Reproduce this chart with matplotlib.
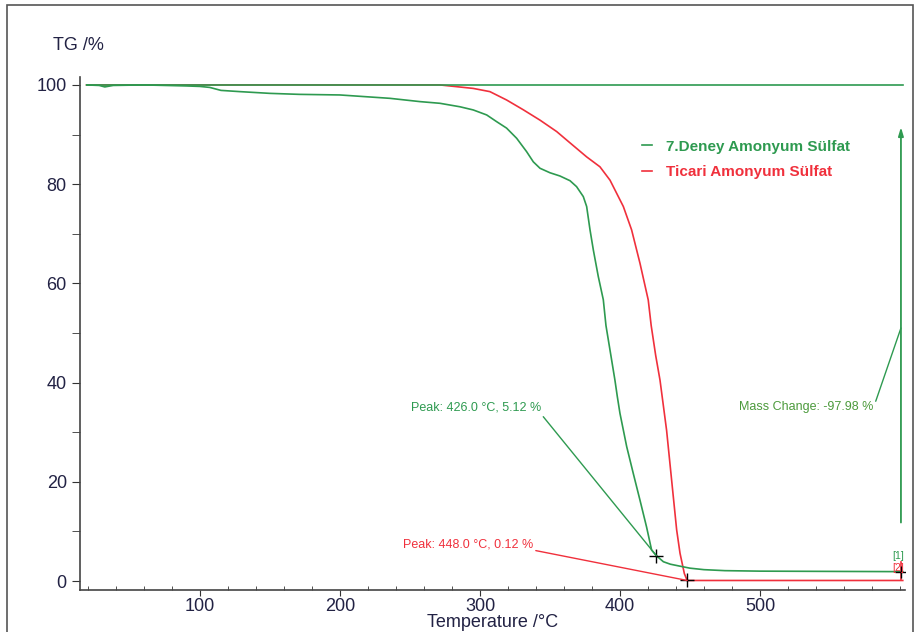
import matplotlib.pyplot as plt
import numpy as np
from matplotlib.patches import Rectangle

plt.rcParams['font.family'] = ['Liberation Sans', 'DejaVu Sans']

# 7.Deney Amonyum Sulfat (green)
t_deney = [19, 28, 32, 38, 60, 90, 100, 107, 115, 128.6, 150, 171, 200, 235.7, 257.1,
           271.4, 285.7, 295.2, 304.8, 311.9, 319, 326.2, 333.3, 338.1, 342.9, 350,
           357.1, 364.3, 369, 373.8, 376.2, 378.6, 381, 384.5, 388.1, 390, 393.5, 396.4,
           398.1, 400, 404.8, 409.5, 414.3, 419, 422.6, 426, 431, 436, 442.9, 450, 460,
           475, 500, 550, 602]
tg_deney = [100, 99.9, 99.6, 99.9, 100, 99.8, 99.7, 99.5, 98.9, 98.65, 98.3, 98.1, 97.98,
            97.3, 96.64, 96.3, 95.6, 94.96, 93.95, 92.6, 91.3, 89.25, 86.56, 84.5, 83.2,
            82.3, 81.65, 80.7, 79.5, 77.5, 75.5, 70.8, 66.7, 61.4, 56.7, 51.5, 45.5, 40.5,
            37.2, 33.8, 27.1, 21.7, 16.3, 10.9, 6.25, 5.12, 3.9, 3.4, 3.0, 2.6, 2.3,
            2.1, 2.0, 1.95, 1.9]

# Ticari Amonyum Sulfat (red)
t_ticari = [19, 100, 200, 250, 271.4, 295.2, 307.1, 319, 330.9, 342.9, 354.8, 361.9,
            376.2, 385.7, 392.9, 402.4, 408.3, 414.3, 420.2, 422.3, 425.5, 428.6, 433.3,
            438.1, 440.5, 442.9, 446, 448, 500, 602]
tg_ticari = [100, 100, 100, 100, 100, 99.3, 98.65, 96.97, 95.0, 92.9, 90.6, 88.9, 85.5,
             83.5, 80.8, 75.5, 70.8, 64.05, 56.65, 51.5, 45.5, 40.5, 30.4, 17.0, 10.3,
             5.6, 1.5, 0.12, 0.12, 0.12]

peak_deney = (426.0, 5.12)
peak_ticari = (448.0, 0.12)
mass_change = -97.98

green = '#2e9a50'
red = '#f0303c'

fig = plt.figure(figsize=(9.17, 6.32), dpi=100)
fig.patches.append(Rectangle((7 / 917, -0.05), 906 / 917, 1.05 - 5 / 632,
                             transform=fig.transFigure, fill=False,
                             edgecolor='#555555', lw=1.2))
ax = fig.add_axes([80 / 917, 1 - 590 / 632, 825 / 917, 513 / 632])

ax.plot(t_ticari, tg_ticari, color=red, lw=1.2, label='Ticari Amonyum Sülfat')
ax.plot(t_deney, tg_deney, color=green, lw=1.2, label='7.Deney Amonyum Sülfat')

# mass change step (start level, arrow, end markers)
ax.plot([19, 602], [100, 100], color=green, lw=1.2)
ax.annotate('', xy=(600.7, 91.5), xytext=(600.7, 11.8),
            arrowprops=dict(arrowstyle='-|>,head_length=0.5,head_width=0.15',
                            color=green, lw=1.3, shrinkA=0, shrinkB=0))
ax.plot([600.7, 600.7], [0.12, 3.8], color=red, lw=1.2)
ax.plot([601], [1.9], marker='+', color='black', ms=8, mew=1)
ax.annotate('Mass Change: %.2f %%' % mass_change, xy=(600.7, 51.0), xytext=(580.7, 35.1),
            color='#4c9a3c', fontsize=9, ha='right', va='center',
            arrowprops=dict(arrowstyle='-', color=green, lw=1, shrinkA=0, shrinkB=0,
                            relpos=(1, 0.3)))
ax.text(598.5, 5.0, '[1]', color=green, fontsize=7.5, ha='center', va='center')
ax.text(598.5, 2.7, '[2]', color=red, fontsize=7.5, ha='center', va='center')

# peaks
for (px, py), txt_xy, col in [(peak_deney, (343.6, 34.9), green),
                              (peak_ticari, (337.9, 7.46), red)]:
    ax.plot([px], [py], marker='+', color='black', ms=10, mew=1)
    ax.annotate('Peak: %.1f °C, %.2f %%' % (px, py), xy=(px, py), xytext=txt_xy,
                color=col, fontsize=9, ha='right', va='center',
                arrowprops=dict(arrowstyle='-', color=col, lw=1, shrinkA=0, shrinkB=0,
                                relpos=(1, 0)))

ax.set_xlim(14.3, 603.6)
ax.set_ylim(-1.8, 101.6)
ax.set_xticks([100, 200, 300, 400, 500])
ax.set_xticks(np.arange(20, 601, 20), minor=True)
ax.set_yticks([0, 20, 40, 60, 80, 100])
ax.set_yticks(np.arange(10, 100, 20), minor=True)
ax.tick_params(axis='x', which='major', direction='out', length=4, labelsize=13, pad=1.5,
               colors='#333333', labelcolor='#222244')
ax.tick_params(axis='x', which='minor', direction='in', length=3, colors='#333333')
ax.tick_params(axis='y', which='both', direction='out', length=6, labelsize=13,
               colors='#333333', labelcolor='#222244')
for s in ['top', 'right']:
    ax.spines[s].set_visible(False)
for s in ['left', 'bottom']:
    ax.spines[s].set_color('#444444')
    ax.spines[s].set_linewidth(1.2)

fig.text(53 / 917, 1 - 45 / 632, 'TG /%', fontsize=13, color='#222244', ha='left', va='center')
fig.text(493 / 917, 1 - 622.5 / 632, 'Temperature /°C', fontsize=13, color='#222244',
         ha='center', va='center')

h, l = ax.get_legend_handles_labels()
leg = ax.legend(h[::-1], l[::-1], loc='upper left', bbox_to_anchor=(628 / 917, 1 - 126 / 632),
                bbox_transform=fig.transFigure, frameon=False, handlelength=0.7,
                handletextpad=0.9, labelspacing=0.75, prop={'size': 11, 'weight': 'bold'},
                labelcolor='linecolor')

plt.savefig('out.png', dpi=100)
